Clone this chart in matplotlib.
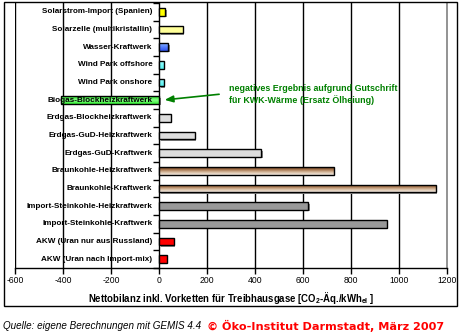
import matplotlib
matplotlib.use("Agg")
import matplotlib.pyplot as plt
import matplotlib.transforms as mtransforms
from matplotlib.colors import LinearSegmentedColormap
from matplotlib.patches import Rectangle
import numpy as np

plt.rcParams['font.family'] = ['Liberation Sans', 'DejaVu Sans']
plt.rcParams['mathtext.fontset'] = 'custom'
plt.rcParams['mathtext.rm'] = 'Liberation Sans:bold'
plt.rcParams['mathtext.bf'] = 'Liberation Sans:bold'
plt.rcParams['mathtext.default'] = 'bf'

categories = [
    "Solarstrom-Import (Spanien)",
    "Solarzelle (multikristallin)",
    "Wasser-Kraftwerk",
    "Wind Park offshore",
    "Wind Park onshore",
    "Biogas-Blockheizkraftwerk",
    "Erdgas-Blockheizkraftwerk",
    "Erdgas-GuD-Heizkraftwerk",
    "Erdgas-GuD-Kraftwerk",
    "Braunkohle-Heizkraftwerk",
    "Braunkohle-Kraftwerk",
    "Import-Steinkohle-Heizkraftwerk",
    "Import-Steinkohle-Kraftwerk",
    "AKW (Uran nur aus Russland)",
    "AKW (Uran nach Import-mix)",
]
values = [25, 99, 39, 20, 20, -409, 49, 148, 427, 729, 1153, 621, 948, 61, 32]

# fill style per bar: plain colour or a vertical gradient (top -> bottom)
fills = [
    ("#FFFF00",),
    ("#FFFF99",),
    ("#8AB4FF", "#5580FF", "#2E50E8"),
    ("#99FFFF", "#55F0F0"),
    ("#99FFFF", "#55F0F0"),
    ("#22DD22", "#88FF88", "#33EE33"),
    ("#DDDDDD",),
    ("#DDDDDD",),
    ("#DDDDDD",),
    ("#6B3E1E", "#A87850", "#D9BFA5", "#F4ECE4"),
    ("#6B3E1E", "#A87850", "#D9BFA5", "#F4ECE4"),
    ("#999999",),
    ("#999999",),
    ("#FF0000",),
    ("#FF0000",),
]

xticks = [-600, -400, -200, 0, 200, 400, 600, 800, 1000, 1200]

n = len(categories)
ypos = np.arange(n)[::-1]
bar_h = 0.42

fig = plt.figure(figsize=(4.61, 3.34), dpi=100)
W, H = 461, 334
ax = fig.add_axes([15 / W, (H - 268) / H, (447 - 15) / W, (268 - 3) / H])
ax.set_xlim(-600, 1200)
ax.set_ylim(-0.5, n - 0.5)

# vertical gridlines
for xv in xticks[1:-1]:
    if xv != 0:
        ax.axvline(xv, color="black", lw=1.0, zorder=1)

# drop shadows
shadow_tr = ax.transData + mtransforms.ScaledTranslation(1.5 / 100, -1.5 / 100, fig.dpi_scale_trans)
ax.barh(ypos, values, height=bar_h, color="#8C8C8C", edgecolor="none",
        transform=shadow_tr, zorder=2)

bars = ax.barh(ypos, values, height=bar_h, color="none", edgecolor="black",
               linewidth=1.0, zorder=4)
for patch, f in zip(bars, fills):
    if len(f) == 1:
        patch.set_facecolor(f[0])
    else:
        patch.set_facecolor("none")
        x0 = patch.get_x()
        x1 = x0 + patch.get_width()
        y0 = patch.get_y()
        y1 = y0 + patch.get_height()
        cmap = LinearSegmentedColormap.from_list("g", list(f))
        grad = np.linspace(0, 1, 64).reshape(-1, 1)
        im = ax.imshow(grad, cmap=cmap, aspect="auto", origin="upper",
                       extent=(min(x0, x1), max(x0, x1), y0, y1), zorder=3,
                       interpolation="bilinear")
        im.set_clip_path(patch)

# category labels placed left of the zero line
for y, lab in zip(ypos, categories):
    ax.text(-28, y, lab, ha="right", va="center", fontsize=5.9,
            fontweight="bold", zorder=5)

# axes frame
ax.spines["left"].set_position(("data", 0))
ax.spines["left"].set_linewidth(1.0)
ax.spines["top"].set_visible(False)
ax.spines["right"].set_color("#808080")
ax.spines["right"].set_linewidth(1.2)
ax.spines["bottom"].set_linewidth(1.0)
ax.axvline(-600, color="black", lw=1.0, zorder=1)

ax.set_yticks(np.arange(n + 1) - 0.5)
ax.set_yticklabels([])
ax.tick_params(axis="y", direction="out", length=4, width=1.0)
ax.set_xticks(xticks)
ax.set_xticklabels([str(v) for v in xticks], fontsize=6.2)
ax.tick_params(axis="x", direction="out", length=4, width=1.0, pad=2)

ax.set_xlabel(r"Nettobilanz inkl. Vorketten für Treibhausgase [CO$_{2}$-Äq./kWh$_{el}$ ]",
              fontsize=6.9, fontweight="bold", labelpad=3)

# note on the negative value
bio = ypos[categories.index("Biogas-Blockheizkraftwerk")]
ax.annotate("", xy=(12, bio), xytext=(262, bio + 0.35),
            arrowprops=dict(arrowstyle="-|>,head_length=0.5,head_width=0.2",
                            color="#008000", lw=1.2), zorder=6)
ax.text(290, bio + 0.33, "negatives Ergebnis aufgrund Gutschrift\nfür KWK-Wärme (Ersatz Ölheiung)",
        color="#008000", fontsize=6.4, fontweight="bold", ha="left", va="center",
        linespacing=1.25, zorder=6)

# outer frame
fig.patches.append(Rectangle((4 / W, (H - 305.5) / H), (457 - 4) / W, (305.5 - 1.5) / H,
                             transform=fig.transFigure, fill=False,
                             edgecolor="black", lw=1.0))

fig.text(3 / W, (H - 326) / H, "Quelle: eigene Berechnungen mit GEMIS 4.4",
         fontsize=7.1, style="italic", ha="left", va="center")
fig.text(207 / W, (H - 326) / H, "© Öko-Institut Darmstadt, März 2007",
         fontsize=8.1, fontweight="bold", color="#FF0000", family="DejaVu Sans",
         ha="left", va="center")

fig.savefig("out.png", dpi=100)
